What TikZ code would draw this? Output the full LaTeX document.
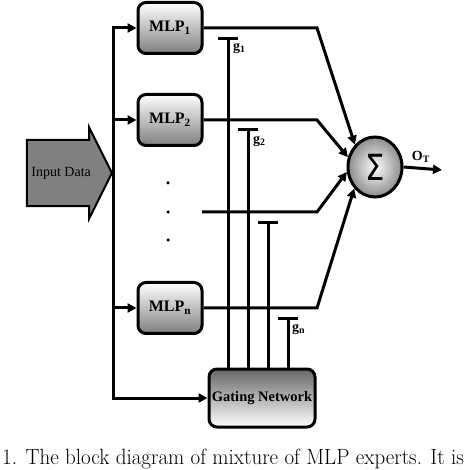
\documentclass[tikz,border=0pt]{standalone}
\usepackage{fontspec}
\newfontfamily\labelfont{Liberation Serif}
\newfontfamily\symbfont{DejaVu Sans}
\usetikzlibrary{arrows.meta, positioning, shapes.geometric, shapes.arrows}

\begin{document}
\begin{tikzpicture}[
  x=1pt, y=-1pt,
  expert/.style={draw, line width=3pt, rounded corners=8pt, top color=white, bottom color=black!50,
    minimum width=64pt, minimum height=51pt, inner sep=0pt, font=\labelfont\bfseries\fontsize{16}{16}\selectfont},
  gatebox/.style={draw, line width=3pt, rounded corners=8pt, top color=black!60, bottom color=white,
    minimum width=106pt, minimum height=58pt, inner sep=0pt, font=\labelfont\bfseries\fontsize{14.5}{14.5}\selectfont},
  sumnode/.style={ellipse, draw, line width=3pt, inner color=white, outer color=black!45,
    minimum width=54pt, minimum height=60pt, inner sep=0pt, font=\symbfont\fontsize{36}{36}\selectfont},
  inputarrow/.style={single arrow, draw, line width=2pt, fill=black!50, minimum height=85pt,
    single arrow head extend=12.5pt, single arrow tip angle=127, single arrow head indent=0pt,
    inner xsep=0pt, inner ysep=26pt, font=\labelfont\fontsize{14}{14}\selectfont},
  dot/.style={circle, fill=black, inner sep=0pt, minimum size=3.5pt},
  glabel/.style={inner sep=0pt, font=\labelfont\bfseries\fontsize{14}{14}\selectfont},
  wire/.style={line width=3pt, -{Triangle[length=9pt, width=9pt]}},
  feed/.style={wire},
  gate/.style={line width=3pt, -{Bar[width=20pt]}},
  caption/.style={inner sep=0pt, font=\fontsize{21}{21}\selectfont}
]
\useasboundingbox (0,0) rectangle (474,470);
\clip (0,0) rectangle (474,470);

% experts, gate and sum
\node[expert] (mlp1) at (170,28) {MLP\textsubscript{1}};
\node[expert] (mlp2) at (170,120) {MLP\textsubscript{2}};
\node[expert] (mlpn) at (170,308) {MLP\textsubscript{n}};
\node[gatebox] (gating) at (262,398) {Gating Network};
\node[sumnode] (sig) at (375,167) {\scalebox{0.85}[1]{Σ}};
\node[inputarrow, anchor=tip] (input) at (113,173) {Input Data};

\foreach \y/\n in {183/1, 212/2, 240/3}
  \node[dot] (dot\n) at (168,\y) {};

\coordinate (knee) at (317,0);
\coordinate (row3) at (202,212);
\coordinate (out) at (442,170);
\coordinate (bar1) at (228,37);
\coordinate (bar2) at (248,128);
\coordinate (bar3) at (268,221);
\coordinate (barn) at (288,317);

% input bus
\foreach \n in {mlp1, mlp2, mlpn, gating}
  \draw[feed] (input.tip) |- (\n.west);

% expert outputs into the sum
\draw[wire] (mlp1.east) -- (mlp1.east -| knee) -- (sig.132);
\draw[wire] (mlp2.east) -- (mlp2.east -| knee) -- (sig.160);
\draw[wire] (row3) -- (row3 -| knee) -- (sig.190);
\draw[wire] (mlpn.east) -- (mlpn.east -| knee) -- (sig.226);
\draw[wire] (sig.east) -- (out) node[glabel, above=4pt, pos=0.45] (ot) {O\textsubscript{T}};

% gate weights
\foreach \b in {bar1, bar2, bar3, barn}
  \draw[gate] (gating.north -| \b) -- (\b);
\node[glabel, below right=6pt and 5pt of bar1] (g1) {g\textsubscript{1}};
\node[glabel, below right=8pt and 5pt of bar2] (g2) {g\textsubscript{2}};
\node[glabel, below right=7pt and 4pt of barn] (gn) {g\textsubscript{n}};

\node[caption, anchor=base west] (cap) at (2,464) {\scalebox{1}[1.05]{1. The block diagram of mixture of MLP experts. It is}};
\end{tikzpicture}
\end{document}
